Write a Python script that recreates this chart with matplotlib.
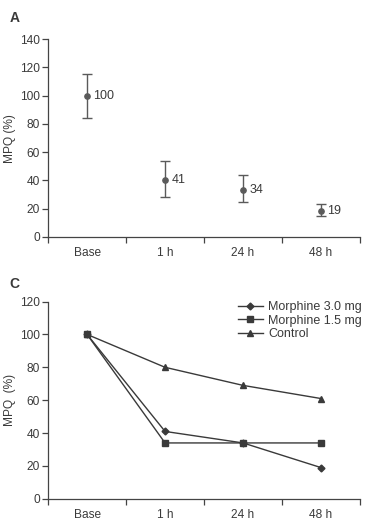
import matplotlib
matplotlib.use("Agg")
import matplotlib.pyplot as plt
import numpy as np

plt.rcParams['font.family'] = ['Liberation Sans', 'DejaVu Sans']

categories = ["Base", "1 h", "24 h", "48 h"]
# Panel A
mean_a = [99.5, 40.5, 33.5, 18.5]
upper_a = [115.5, 54.0, 44.0, 23.0]
lower_a = [84.5, 28.5, 24.5, 15.0]
labels_a = ["100", "41", "34", "19"]
# Panel C
morph30 = [100, 41, 34, 19]
morph15 = [100, 34, 34, 34]
control = [100, 80, 69, 61]

gray = "#5a5a5a"
dark = "#3a3a3a"
tick_col = "#444444"
txt = "#3a3a3a"

fig = plt.figure(figsize=(3.67, 5.29), dpi=100)
axA = fig.add_axes([0.131, 0.552, 0.850, 0.374])
axC = fig.add_axes([0.131, 0.057, 0.850, 0.373])

x = np.arange(len(categories))

def style(ax, ymax, step):
    for s in ["top", "right"]:
        ax.spines[s].set_visible(False)
    for s in ["left", "bottom"]:
        ax.spines[s].set_color(tick_col)
        ax.spines[s].set_linewidth(0.9)
    ax.set_xlim(-0.5, 3.5)
    ax.set_ylim(0, ymax)
    ax.set_yticks(np.arange(0, ymax + 1, step))
    ax.set_xticks(x)
    ax.set_xticklabels(categories)
    ax.set_xticks(np.arange(-0.5, 3.6, 1), minor=True)
    ax.tick_params(axis="x", which="major", length=0, pad=7, labelsize=8.6, colors=txt)
    ax.tick_params(axis="x", which="minor", length=4, width=0.9, color=tick_col, direction="out")
    ax.tick_params(axis="y", length=4, width=0.9, color=tick_col, labelsize=8.6, labelcolor=txt, pad=2)

# Panel A
style(axA, 140, 20)
yerr = [np.array(mean_a) - np.array(lower_a), np.array(upper_a) - np.array(mean_a)]
axA.errorbar(x, mean_a, yerr=yerr, fmt="o", color=gray, ecolor=gray,
             markersize=3.8, capsize=3.5, elinewidth=1.0, capthick=1.0)
for xi, yi, lab in zip(x, mean_a, labels_a):
    axA.annotate(lab, (xi, yi), xytext=(4.5, 0), textcoords="offset points",
                 va="center", ha="left", fontsize=9, color=txt)
axA.set_ylabel("MPQ (%)", fontsize=8.6, color=txt, labelpad=3)
fig.text(0.025, 0.966, "A", fontsize=10, fontweight="bold", color=txt, va="center")

# Panel C
style(axC, 120, 20)
axC.plot(x, morph30, marker="D", markersize=3.5, color=dark, lw=1.0, label="Morphine 3.0 mg")
axC.plot(x, morph15, marker="s", markersize=3.8, color=dark, lw=1.0, label="Morphine 1.5 mg")
axC.plot(x, control, marker="^", markersize=4.2, color=dark, lw=1.0, label="Control")
axC.set_ylabel("MPQ  (%)", fontsize=8.6, color=txt, labelpad=3)
leg = axC.legend(loc="upper right", bbox_to_anchor=(1.035, 1.045), frameon=False, fontsize=9,
                 handlelength=2.0, handletextpad=0.45, labelspacing=0.1, borderpad=0.2)
for t in leg.get_texts():
    t.set_color(txt)
fig.text(0.025, 0.463, "C", fontsize=10, fontweight="bold", color=txt, va="center")

fig.savefig("out.png", dpi=100)
